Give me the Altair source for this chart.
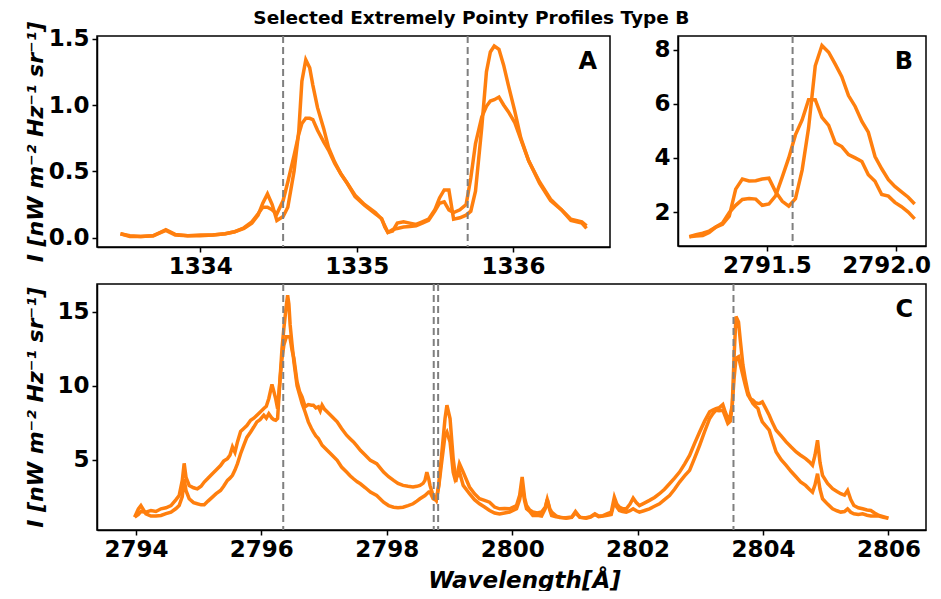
import altair as alt
import pandas as pd

TITLE = "Selected Extremely Pointy Profiles Type B"
Y_TITLE = "I [nW m⁻² Hz⁻¹ sr⁻¹]"
X_TITLE = "Wavelength[Å]"

# ---- Panel A (C II 1334/1335) ----
A_wl = [1333.49, 1333.55, 1333.62, 1333.70, 1333.78, 1333.84, 1333.92, 1334.00, 1334.08,
        1334.16, 1334.22, 1334.28, 1334.33, 1334.37, 1334.40, 1334.43, 1334.46, 1334.49,
        1334.53, 1334.56, 1334.60, 1334.63, 1334.65, 1334.675, 1334.70, 1334.72, 1334.75,
        1334.79, 1334.82, 1334.86, 1334.90, 1334.94, 1334.99, 1335.05, 1335.12, 1335.16,
        1335.18, 1335.20, 1335.23, 1335.26, 1335.30, 1335.34, 1335.38, 1335.42, 1335.46,
        1335.50, 1335.53, 1335.56, 1335.59, 1335.62, 1335.66, 1335.70, 1335.73, 1335.76,
        1335.80, 1335.83, 1335.855, 1335.88, 1335.91, 1335.94, 1335.97, 1336.01, 1336.05,
        1336.10, 1336.17, 1336.24, 1336.31, 1336.37, 1336.44, 1336.47]
A_p1 = [0.03, 0.01, 0.01, 0.015, 0.06, 0.025, 0.015, 0.015, 0.02,
        0.03, 0.045, 0.07, 0.11, 0.17, 0.26, 0.33, 0.25, 0.13,
        0.16, 0.23, 0.50, 0.80, 1.18, 1.34, 1.28, 1.15, 0.98,
        0.82, 0.68, 0.57, 0.48, 0.41, 0.31, 0.245, 0.18, 0.145,
        0.08, 0.04, 0.05, 0.11, 0.12, 0.11, 0.10, 0.12, 0.14,
        0.21, 0.30, 0.36, 0.36, 0.14, 0.15, 0.17, 0.20, 0.35,
        0.83, 1.25, 1.40, 1.445, 1.42, 1.30, 1.15, 0.96, 0.75,
        0.58, 0.41, 0.28, 0.21, 0.14, 0.12, 0.09]
A_p2 = [0.03, 0.015, 0.01, 0.015, 0.055, 0.02, 0.015, 0.02, 0.02,
        0.03, 0.045, 0.075, 0.12, 0.18, 0.23, 0.23, 0.21, 0.18,
        0.28, 0.42, 0.62, 0.78, 0.86, 0.90, 0.90, 0.89, 0.81,
        0.72, 0.66, 0.56, 0.48, 0.41, 0.32, 0.25, 0.19, 0.14,
        0.09, 0.04, 0.06, 0.07, 0.08, 0.085, 0.09, 0.11, 0.13,
        0.20, 0.26, 0.27, 0.21, 0.19, 0.21, 0.25, 0.45, 0.71,
        0.91, 0.99, 1.03, 1.04, 1.06, 1.00, 0.95, 0.87, 0.74,
        0.58, 0.42, 0.29, 0.21, 0.13, 0.11, 0.07]
A_lines = [1334.53, 1335.71]

# ---- Panel B (Mg II 2791.6) ----
B_wl = [2791.199, 2791.225, 2791.251, 2791.276, 2791.302, 2791.328, 2791.354, 2791.379,
        2791.405, 2791.431, 2791.457, 2791.482, 2791.508, 2791.534, 2791.560, 2791.585,
        2791.611, 2791.637, 2791.662, 2791.688, 2791.714, 2791.740, 2791.766, 2791.791,
        2791.817, 2791.843, 2791.869, 2791.894, 2791.920, 2791.946, 2791.972, 2791.997,
        2792.023, 2792.049, 2792.074]
B_p1 = [1.09, 1.17, 1.22, 1.30, 1.45, 1.55, 1.85, 2.85, 3.22, 3.15, 3.16, 3.22, 3.25, 2.75,
        2.40, 2.22, 2.50, 3.55, 5.10, 7.40, 8.15, 7.90, 7.45, 7.00, 6.30, 5.90, 5.35, 4.95,
        4.05, 3.60, 3.20, 2.95, 2.75, 2.55, 2.30]
B_p2 = [1.09, 1.12, 1.14, 1.25, 1.45, 1.60, 1.98, 2.25, 2.47, 2.50, 2.48, 2.25, 2.30, 2.60,
        3.30, 4.00, 4.85, 5.40, 6.15, 6.15, 5.50, 5.20, 4.55, 4.42, 4.12, 4.00, 3.87, 3.38,
        3.14, 2.65, 2.59, 2.36, 2.20, 2.00, 1.75]
B_lines = [2791.60]

# ---- Panel C (Mg II h & k) ----
C_wl = [2793.98, 2794.04, 2794.08, 2794.16, 2794.24, 2794.32, 2794.40, 2794.48, 2794.56,
        2794.64, 2794.69, 2794.74, 2794.77, 2794.80, 2794.85, 2794.92, 2794.98, 2795.04,
        2795.09, 2795.15, 2795.22, 2795.28, 2795.35, 2795.40, 2795.46, 2795.50, 2795.54,
        2795.58, 2795.62, 2795.67, 2795.72, 2795.77, 2795.83, 2795.88, 2795.93, 2795.98,
        2796.04, 2796.08, 2796.12, 2796.17, 2796.20, 2796.23, 2796.26, 2796.30, 2796.33,
        2796.36, 2796.40, 2796.42, 2796.44, 2796.46, 2796.49, 2796.52, 2796.57, 2796.61,
        2796.65, 2796.70, 2796.75, 2796.80, 2796.83, 2796.87, 2796.91, 2796.94, 2796.97,
        2797.01, 2797.05, 2797.13, 2797.21, 2797.28, 2797.36, 2797.42, 2797.47, 2797.53,
        2797.58, 2797.66, 2797.74, 2797.84, 2797.95, 2798.03, 2798.11, 2798.18, 2798.26,
        2798.34, 2798.42, 2798.48, 2798.53, 2798.58, 2798.61, 2798.64, 2798.67, 2798.69,
        2798.74, 2798.79, 2798.83, 2798.87, 2798.93, 2798.96, 2799.01, 2799.06, 2799.10,
        2799.16, 2799.22, 2799.32, 2799.40, 2799.48, 2799.56, 2799.64, 2799.72, 2799.80,
        2799.88, 2799.96, 2800.07, 2800.12, 2800.16, 2800.20, 2800.23, 2800.28, 2800.33,
        2800.40, 2800.47, 2800.53, 2800.56, 2800.60, 2800.63, 2800.70, 2800.76, 2800.86,
        2800.95, 2801.01, 2801.08, 2801.18, 2801.25, 2801.32, 2801.38, 2801.45, 2801.52,
        2801.58, 2801.63, 2801.67, 2801.71, 2801.76, 2801.82, 2801.88, 2801.93, 2801.98,
        2802.03, 2802.10, 2802.19, 2802.27, 2802.35, 2802.43, 2802.51, 2802.59, 2802.67,
        2802.75, 2802.83, 2802.91, 2802.99, 2803.07, 2803.15, 2803.20, 2803.25, 2803.30,
        2803.36, 2803.40, 2803.44, 2803.48, 2803.51, 2803.54, 2803.57, 2803.61, 2803.64,
        2803.68, 2803.72, 2803.76, 2803.80, 2803.84, 2803.88, 2803.92, 2803.95, 2803.99,
        2804.04, 2804.10, 2804.15, 2804.21, 2804.29, 2804.37, 2804.45, 2804.53, 2804.60,
        2804.68, 2804.74, 2804.79, 2804.83, 2804.87, 2804.91, 2804.95, 2805.03, 2805.11,
        2805.18, 2805.24, 2805.30, 2805.35, 2805.40, 2805.45, 2805.52, 2805.59, 2805.66,
        2805.72, 2805.78, 2805.85, 2805.92, 2806.00]
C_p1 = [1.12, 1.68, 1.90, 1.34, 1.19, 1.20, 1.23, 1.35, 1.46,
        1.70, 1.90, 2.50, 3.70, 2.90, 2.36, 2.10, 2.02, 1.95,
        1.95, 2.20, 2.47, 2.70, 2.92, 3.20, 3.60, 3.75, 3.94,
        4.30, 4.73, 5.40, 5.97, 6.50, 6.87, 7.20, 7.55, 7.70,
        8.00, 7.80, 8.10, 7.80, 7.70, 7.66, 7.78, 10.50, 12.50,
        13.87, 15.45, 16.10, 15.50, 14.10, 12.80, 11.60, 10.00, 9.40,
        8.80, 8.20, 7.55, 7.10, 6.87, 6.60, 6.42, 6.20, 5.97,
        5.80, 5.63, 5.30, 4.95, 4.50, 4.16, 3.90, 3.71, 3.50,
        3.37, 3.10, 2.81, 2.58, 2.13, 1.90, 1.79, 1.75, 1.79,
        1.90, 2.02, 2.20, 2.36, 2.50, 2.58, 2.70, 2.81, 2.81,
        2.36, 2.25, 3.30, 5.07, 7.78, 8.68, 7.78, 5.07, 3.71,
        4.16, 3.26, 2.70, 2.30, 2.02, 1.80, 1.57, 1.40, 1.34,
        1.40, 1.46, 1.68, 2.30, 3.26, 2.20, 1.68, 1.50, 1.23,
        1.25, 1.19, 1.70, 2.31, 1.60, 1.23, 1.15, 1.12, 1.05,
        1.10, 1.40, 1.12, 1.05, 1.12, 1.30, 1.15, 1.19, 1.25,
        1.30, 2.13, 1.80, 1.57, 1.50, 1.46, 1.55, 1.68, 1.55,
        1.46, 1.55, 1.68, 1.85, 2.02, 2.30, 2.58, 3.00, 3.49,
        3.90, 4.28, 5.10, 5.97, 6.90, 7.78, 8.10, 8.34, 8.30,
        8.34, 7.90, 7.44, 7.60, 8.68, 12.00, 14.66, 14.30, 13.00,
        11.40, 10.40, 9.58, 9.10, 8.79, 8.60, 8.45, 8.00, 7.55,
        7.30, 6.99, 6.30, 5.52, 5.00, 4.62, 4.20, 3.83, 3.50,
        3.26, 3.00, 2.81, 3.30, 4.05, 3.00, 2.36, 2.00, 1.68,
        1.55, 1.46, 1.50, 1.68, 1.45, 1.34, 1.30, 1.34, 1.25,
        1.19, 1.20, 1.19, 1.10, 1.05]
C_p2 = [1.12, 1.30, 1.50, 1.45, 1.57, 1.50, 1.68, 1.75, 1.90,
        2.30, 2.58, 3.60, 4.75, 3.80, 3.26, 3.10, 3.03, 3.20,
        3.49, 3.75, 4.05, 4.30, 4.60, 4.90, 5.07, 5.30, 5.86,
        5.50, 6.20, 6.90, 7.10, 7.30, 7.66, 7.80, 8.00, 8.20,
        8.45, 8.60, 9.13, 10.08, 9.60, 9.10, 8.45, 10.50, 11.80,
        12.74, 13.30, 13.30, 13.30, 13.20, 12.40, 11.84, 10.26, 9.60,
        9.24, 8.57, 8.72, 8.68, 8.68, 8.50, 8.57, 8.30, 8.68,
        8.40, 8.23, 7.90, 7.55, 7.10, 6.65, 6.40, 6.20, 5.90,
        5.63, 5.30, 4.95, 4.73, 4.16, 3.85, 3.60, 3.40, 3.26,
        3.20, 3.15, 3.20, 3.26, 3.40, 3.60, 4.16, 3.70, 3.26,
        2.58, 2.25, 3.20, 4.60, 6.65, 6.87, 6.20, 4.16, 3.50,
        4.73, 4.16, 3.15, 2.70, 2.36, 2.25, 2.13, 1.80, 1.68,
        1.70, 1.68, 1.90, 2.60, 3.83, 2.40, 1.90, 1.60, 1.46,
        1.40, 1.46, 1.80, 2.31, 1.70, 1.46, 1.20, 1.10, 1.08,
        1.12, 1.50, 1.10, 1.08, 1.15, 1.34, 1.20, 1.22, 1.35,
        1.45, 2.47, 2.00, 1.79, 1.70, 1.68, 2.00, 2.40, 2.10,
        1.90, 2.05, 2.25, 2.45, 2.70, 3.00, 3.37, 3.75, 4.16,
        4.70, 5.29, 6.10, 6.87, 7.60, 8.23, 8.35, 8.45, 8.50,
        8.72, 8.20, 7.78, 8.00, 8.68, 10.50, 11.84, 11.95, 11.40,
        10.70, 10.00, 9.36, 9.10, 9.02, 8.85, 8.79, 8.80, 8.90,
        8.50, 8.00, 7.50, 6.99, 6.60, 6.20, 5.85, 5.52, 5.30,
        5.07, 4.85, 4.62, 5.30, 6.31, 4.80, 3.94, 3.40, 3.04,
        2.85, 2.70, 2.60, 2.92, 2.30, 1.90, 1.75, 1.68, 1.60,
        1.57, 1.40, 1.23, 1.15, 1.05]
C_lines = [2796.35, 2798.75, 2798.82, 2803.53]

ORANGE = "#ff7f0e"
DASH = "#7f7f7f"
FONT = "DejaVu Sans"


def long_df(wl, p1, p2):
    return pd.DataFrame({
        "wl": list(wl) + list(wl),
        "I": list(p1) + list(p2),
        "profile": ["1"] * len(wl) + ["2"] * len(wl),
    })


def panel(df, lines, letter, xdom, ydom, xticks, yticks, xfmt, yfmt, w, h,
          ytitle=False, xtitle=False, flush=False):
    xs = alt.Scale(domain=xdom, nice=False, zero=False)
    ys = alt.Scale(domain=ydom, nice=False, zero=False)
    xaxis_kw = dict(values=xticks, format=xfmt, title=None)
    if flush:
        xaxis_kw.update(labelFlush=35, labelFlushOffset=35)
    if xtitle:
        xaxis_kw.update(title=X_TITLE, titleFont=FONT, titleFontSize=23,
                        titleFontWeight="bold", titleFontStyle="italic",
                        titleColor="black", titleX=427, titleY=57,
                        titleAlign="center", titleBaseline="alphabetic")
    yaxis_kw = dict(values=yticks, format=yfmt, title=None)
    if ytitle:
        yaxis_kw.update(title=Y_TITLE, titleFont=FONT, titleFontSize=22,
                        titleFontWeight="bold", titleFontStyle="italic",
                        titleColor="black", titleX=-55, titleAngle=270,
                        titleAlign="center", titleBaseline="alphabetic")
    base = alt.Chart(df)
    line = base.mark_line(color=ORANGE, strokeWidth=3.5, clip=True).encode(
        x=alt.X("wl:Q", scale=xs, axis=alt.Axis(**xaxis_kw)),
        y=alt.Y("I:Q", scale=ys, axis=alt.Axis(**yaxis_kw)),
        detail="profile:N",
    )
    rules = alt.Chart(pd.DataFrame({"wl": lines})).mark_rule(
        color=DASH, strokeDash=[7, 4], strokeWidth=2).encode(
        x=alt.X("wl:Q", scale=xs))
    lab = alt.Chart(pd.DataFrame({"t": [letter]})).mark_text(
        font=FONT, fontSize=24, fontWeight="bold", color="black",
        align="right", baseline="alphabetic").encode(
        text="t:N", x=alt.value(w - 13), y=alt.value(33))
    return alt.layer(line, rules, lab).properties(width=w, height=h)


A = panel(long_df(A_wl, A_p1, A_p2), A_lines, "A",
          [1333.34, 1336.62], [-0.07, 1.52], [1334, 1335, 1336], [0, 0.5, 1.0, 1.5],
          "d", ".1f", 513, 211, ytitle=True)
B = panel(long_df(B_wl, B_p1, B_p2), B_lines, "B",
          [2791.155, 2792.118], [0.75, 8.5], [2791.5, 2792.0], [2, 4, 6, 8],
          ".1f", "d", 248, 210, flush=True)
C = panel(long_df(C_wl, C_p1, C_p2), C_lines, "C",
          [2793.38, 2806.6], [0.25, 16.86], [2794, 2796, 2798, 2800, 2802, 2804, 2806],
          [5, 10, 15], "d", "d", 829, 246, ytitle=True, xtitle=True)

top = alt.hconcat(A, B, spacing=42)
chart = alt.vconcat(top, C, spacing=3).properties(
    title=alt.TitleParams(TITLE, font=FONT, fontSize=18.5, fontWeight="bold",
                          color="black", anchor="middle", dx=-6, dy=11),
    autosize=alt.AutoSizeParams(type="none"),
    padding={"left": 89, "top": 28, "right": 836, "bottom": 555},
).configure_axis(
    labelFont=FONT, labelFontSize=23, labelFontWeight="bold", labelColor="black",
    tickColor="black", tickSize=5, tickWidth=1.5, domainColor="black",
    domainWidth=1.5, grid=False, labelPadding=3,
).configure_view(
    stroke="black", strokeWidth=1.5,
)

chart.save("out.html", embed_options={"renderer": "svg", "actions": False})
